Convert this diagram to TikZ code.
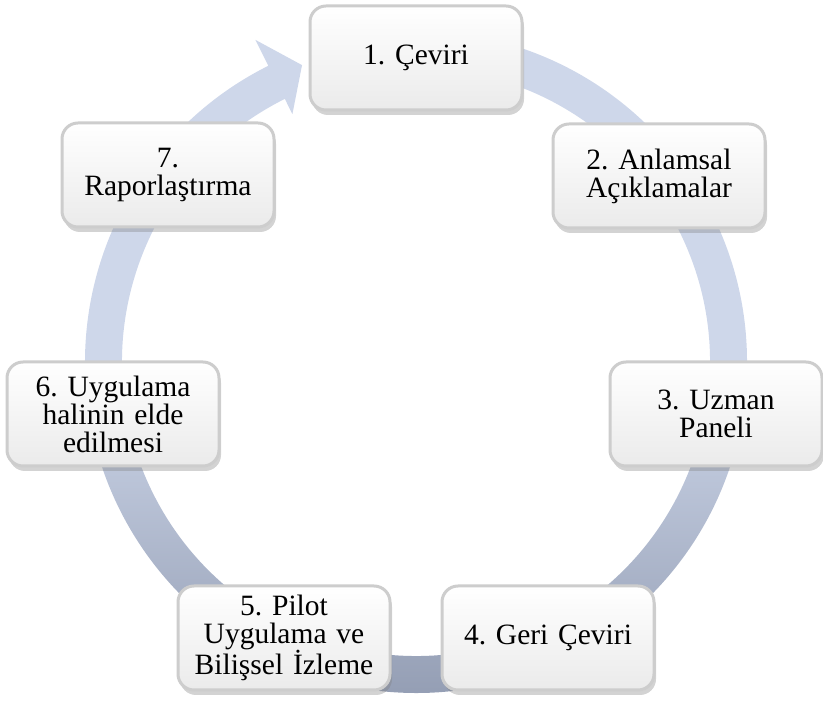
\documentclass[tikz,border=0pt]{standalone}
\usepackage{fontspec}
\setmainfont{Liberation Serif}
\usetikzlibrary{shadows}

\definecolor{ringlight}{RGB}{206,215,234}
\definecolor{ringdark}{RGB}{146,156,178}
\definecolor{boxedge}{RGB}{205,205,205}

\frenchspacing
\hyphenpenalty=10000
\exhyphenpenalty=10000

\tikzset{
  basic/.style   = {rectangle, rounded corners=16pt, minimum width=212pt, minimum height=104pt,
                    inner sep=4pt, text width=185pt, align=center, font=\fontsize{29.5}{28}\selectfont},
  stepbox/.style = {basic, draw=boxedge, line width=3pt, top color=white, bottom color=gray!16,
                    drop shadow={opacity=0.35, shadow xshift=2pt, shadow yshift=-5pt}},
  ring/.style    = {top color=ringlight, bottom color=ringdark, middle color=ringlight}
}

\begin{document}
\begin{tikzpicture}[x=1pt, y=1pt]
\useasboundingbox (0,0) rectangle (823,704);

% The ring arrow, drawn first so the boxes lie over it
\begin{scope}[shift={(416,342)}]
\shade[ring] (85:331) arc[start angle=85, end angle=-243.5, radius=331]
  -- (116.5:360) -- (111:318) -- (116.5:277) -- (116.5:294)
  arc[start angle=-243.5, end angle=85, radius=294] -- cycle;
\end{scope}

% The seven steps round the ring
\begin{scope}[every node/.style={stepbox}]
\node (c1) at (416,646) {1. Çeviri};
\node (c2) at (659,528) {2. Anlamsal Açıklamalar};
\node (c3) at (716,290) {3. Uzman Paneli};
\node (c4) at (548,66)  {4. Geri Çeviri};
\node (c5) at (284,66)  {5. Pilot Uygulama ve Bilişsel İzleme};
\node (c6) at (113,290) {6. Uygulama halinin elde edilmesi};
\node (c7) at (168,529) {7. Raporlaştırma};
\end{scope}

\end{tikzpicture}
\end{document}
